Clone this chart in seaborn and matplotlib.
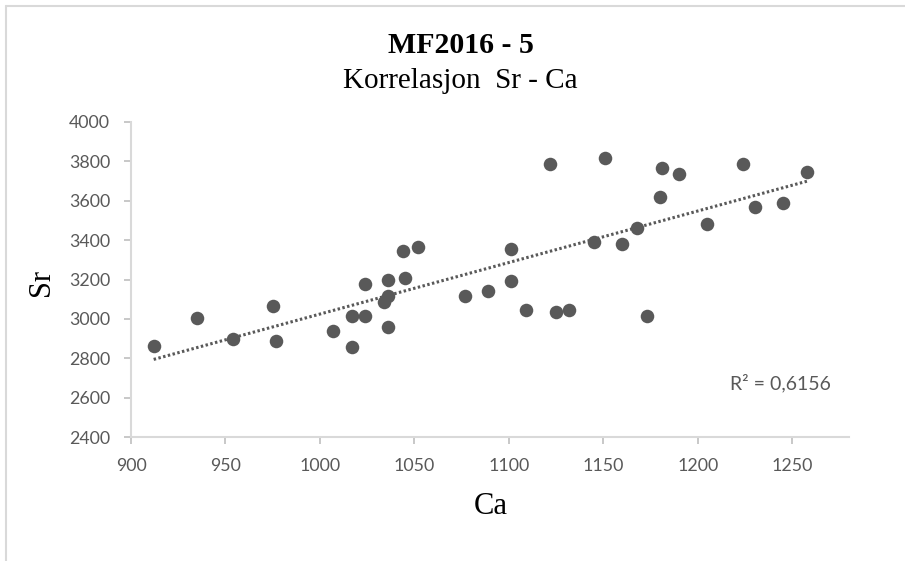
import matplotlib
matplotlib.use("Agg")
import matplotlib.pyplot as plt
import seaborn as sns
import pandas as pd
from matplotlib.lines import Line2D

ca = [912, 935, 954, 975, 977, 1007, 1017, 1017, 1024, 1024, 1034, 1036, 1036, 1036,
      1044, 1045, 1052, 1077, 1089, 1101, 1101, 1109, 1122, 1125, 1132, 1145, 1151,
      1160, 1168, 1173, 1180, 1181, 1190, 1205, 1224, 1230, 1245, 1258]
sr = [2860, 3006, 2898, 3067, 2888, 2938, 3016, 2859, 3016, 3175, 3084, 3116, 3197, 2960,
      3345, 3206, 3363, 3116, 3143, 3353, 3194, 3045, 3787, 3035, 3045, 3392, 3817,
      3380, 3460, 3016, 3617, 3766, 3737, 3480, 3787, 3570, 3590, 3746]
x_ticks = [900, 950, 1000, 1050, 1100, 1150, 1200, 1250]
y_ticks = [2400, 2600, 2800, 3000, 3200, 3400, 3600, 3800, 4000]
title = "MF2016 - 5"
subtitle = "Korrelasjon  Sr - Ca"
r2_text = "R² = 0,6156"

df = pd.DataFrame({"Ca": ca, "Sr": sr})

sns.set_theme(style="white")
plt.rcParams['font.family'] = ['Lato', 'DejaVu Sans']

W, H = 905, 561
fig = plt.figure(figsize=(W / 100, H / 100), dpi=100)
border = "#d9d9d9"
fig.lines.append(Line2D([6 / W, 6 / W], [0, 1 - 6 / H], transform=fig.transFigure,
                        color=border, linewidth=1.5))
fig.lines.append(Line2D([6 / W, 1], [1 - 6 / H, 1 - 6 / H], transform=fig.transFigure,
                        color=border, linewidth=1.5))
ax = fig.add_axes([131 / W, 1 - 437 / H, (849 - 131) / W, (437 - 122) / H])

grey = "#595959"
sns.regplot(data=df, x="Ca", y="Sr", ax=ax, scatter=False, ci=None, truncate=True,
            line_kws=dict(color=grey, linestyle=(0, (0.8, 0.8)), linewidth=2.2,
                          dash_capstyle="butt"))
sns.scatterplot(data=df, x="Ca", y="Sr", ax=ax, s=95, color=grey, edgecolor=grey,
                linewidth=0, zorder=3)

ax.set_xlim(900, 1280)
ax.set_ylim(2400, 4000)
ax.set_xticks(x_ticks)
ax.set_yticks(y_ticks)
ax.tick_params(axis="both", which="both", direction="out", length=5, width=1.2,
               color="#bfbfbf", labelsize=12.8, labelcolor=grey, left=True, bottom=True)
ax.tick_params(axis="y", pad=10)
ax.tick_params(axis="x", pad=10)
for s in ["top", "right"]:
    ax.spines[s].set_visible(False)
for s in ["left", "bottom"]:
    ax.spines[s].set_color(border)
    ax.spines[s].set_linewidth(1.5)

ax.set_xlabel("Ca", family="Liberation Serif", fontsize=22, color="black", va="center")
ax.set_ylabel("Sr", family="Liberation Serif", fontsize=22, color="black", va="center")
ax.xaxis.set_label_coords(0.501, -0.222)
ax.yaxis.set_label_coords(-0.1253, 0.49)

fig.text(461 / W, 1 - 53 / H, title, ha="center", va="baseline", family="Liberation Serif",
         fontweight="bold", fontsize=21.5, color="black")
fig.text(460 / W, 1 - 88 / H, subtitle, ha="center", va="baseline", family="Liberation Serif",
         fontsize=21, color="black")
ax.text(0.975, 0.152, r2_text, transform=ax.transAxes, ha="right", va="baseline",
        fontsize=14, color=grey)

fig.savefig("out.png", dpi=100)
